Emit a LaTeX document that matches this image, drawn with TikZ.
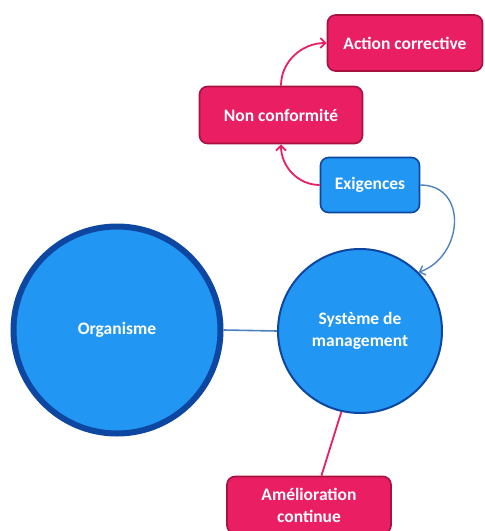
\documentclass[tikz,border=0pt]{standalone}
\usepackage{fontspec}
\setmainfont{Carlito}
\usetikzlibrary{arrows.meta,calc}
\definecolor{pinkfill}{HTML}{E91E63}
\definecolor{pinkline}{HTML}{A8123F}
\definecolor{bluefill}{HTML}{2196F3}
\definecolor{blueedge}{HTML}{0D47A1}
\definecolor{bluelink}{HTML}{4F81BD}
\tikzset{
  lbl/.style={text=white, font=\bfseries\fontsize{17.5}{22}\selectfont, align=center},
  pinkbox/.style={lbl, rectangle, rounded corners=8pt, fill=pinkfill, draw=pinkline, line width=1.6pt, inner sep=0pt},
  bluebox/.style={lbl, rectangle, rounded corners=8pt, fill=bluefill, draw=blueedge, line width=1.6pt, inner sep=0pt},
  bigcircle/.style={lbl, circle, fill=bluefill, draw=blueedge, inner sep=0pt},
  pinklink/.style={draw=pinkfill, line width=1.8pt, -{Straight Barb[length=5pt,width=10pt]}},
  bluelinkarrow/.style={draw=bluelink, line width=1.4pt, -{Straight Barb[length=5pt,width=10pt]}},
  plainblue/.style={draw=bluelink, line width=1.6pt},
  plainpink/.style={draw=pinkfill, line width=1.8pt}
}
\begin{document}
\begin{tikzpicture}[x=1pt,y=-1pt]
\useasboundingbox (0,0) rectangle (485,531);
\node[pinkbox, minimum width=155pt, minimum height=56pt] (ac) at (405,43) {Action corrective};
\node[pinkbox, minimum width=163pt, minimum height=57pt] (nc) at (281,115) {Non conformité};
\node[bluebox, minimum width=99pt, minimum height=55pt] (ex) at (370,185) {Exigences};
\node[bigcircle, minimum size=207pt, line width=6pt] (org) at (117,330) {Organisme};
\node[bigcircle, minimum size=164pt, line width=2pt] (sm) at (360,331) {Système de\\management};
\node[pinkbox, minimum width=164pt, minimum height=57pt] (am) at (309,505) {Amélioration\\continue};
\draw[plainblue] (org.east) -- (sm.west);
\draw[plainpink] (sm.-103) -- ($(am.north)!0.15!(am.north east)$);
\draw[bluelinkarrow] (ex.east) to[out=0,in=20,looseness=1.4] (sm.45);
\draw[pinklink] (ex.west) to[out=180,in=-90] (nc.south);
\draw[pinklink] (nc.north) to[out=90,in=180] (ac.west);
\end{tikzpicture}
\end{document}
